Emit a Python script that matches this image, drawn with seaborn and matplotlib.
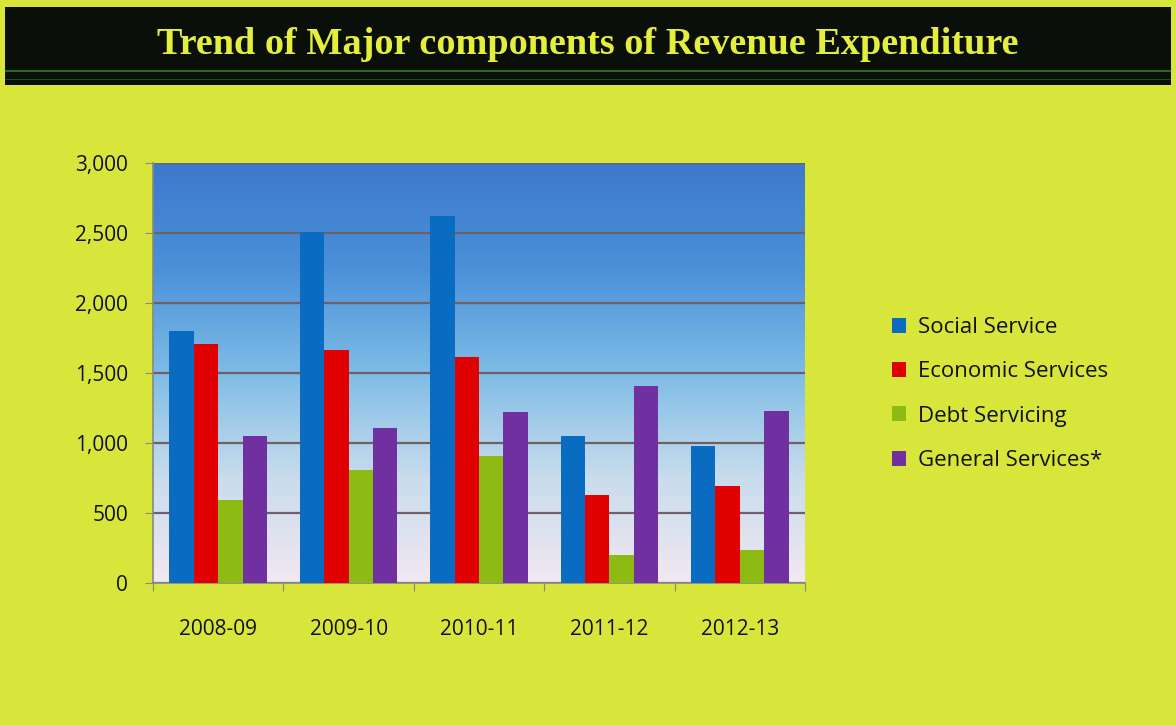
import numpy as np
import pandas as pd
import matplotlib
matplotlib.use("Agg")
import matplotlib.pyplot as plt
from matplotlib.colors import LinearSegmentedColormap
from matplotlib.patches import Rectangle
import seaborn as sns

years = ["2008-09", "2009-10", "2010-11", "2011-12", "2012-13"]
series = ["Social Service", "Economic Services", "Debt Servicing", "General Services*"]
social = [1800, 2510, 2620, 1050, 980]
economic = [1710, 1665, 1615, 630, 690]
debt = [590, 805, 905, 200, 237]
general = [1050, 1110, 1222, 1410, 1230]
colors = ["#0A6CC0", "#E00000", "#8DBB14", "#7030A0"]

df = pd.DataFrame({
    "year": years * 4,
    "component": [s for s in series for _ in years],
    "value": social + economic + debt + general,
})

sns.set_style("white")
plt.rcParams["font.family"] = ["Open Sans", "DejaVu Sans"]

bg = "#D8E63C"
fig = plt.figure(figsize=(11.76, 7.25), dpi=100, facecolor=bg)

# title band
fig.patches.append(Rectangle((0.004, 1 - 85 / 725), 0.992, 78 / 725, transform=fig.transFigure,
                             facecolor="#0B0F0A", edgecolor="none", zorder=0))
fig.patches.append(Rectangle((0.004, 1 - 72 / 725), 0.992, 2 / 725, transform=fig.transFigure,
                             facecolor="#2A6A26", edgecolor="none", zorder=1))
fig.patches.append(Rectangle((0.004, 1 - 80 / 725), 0.992, 1.5 / 725, transform=fig.transFigure,
                             facecolor="#1C4A1C", edgecolor="none", zorder=1))
fig.text(0.5, 1 - 44 / 725, "Trend of Major components of Revenue Expenditure",
         ha="center", va="center", color="#E4EE3C", fontsize=27.5, fontweight="bold",
         family="Liberation Serif")

ax = fig.add_axes([153 / 1176, 1 - 583 / 725, 652 / 1176, 420 / 725])

# gradient background of plot area
grad = LinearSegmentedColormap.from_list("g", ["#F2E8F2", "#C8DCEC", "#7EBCE6", "#4A90D8", "#3E78CC"])
ax.imshow(np.linspace(0, 1, 256).reshape(-1, 1), cmap=grad, origin="lower", aspect="auto",
          extent=[0, 1, 0, 1], transform=ax.transAxes, zorder=0)

sns.barplot(data=df, x="year", y="value", hue="component", palette=colors, width=0.75,
            saturation=1, ax=ax, zorder=3, legend=True, linewidth=0, edgecolor="none")

ax.set_ylim(0, 3000)
ax.set_xlim(-0.5, 4.5)
ax.set_yticks(range(0, 3001, 500))
ax.set_yticklabels([f"{v:,}" for v in range(0, 3001, 500)])
ax.yaxis.grid(True, color="#6E6066", linewidth=1.6)
for line in ax.get_ygridlines():
    line.set_zorder(2)
ax.set_xlabel("")
ax.set_ylabel("")
ax.set_xticks(np.arange(-0.5, 5, 1), minor=False)
ax.set_xticklabels([])
ax.set_xticks(range(5), minor=True)
ax.set_xticklabels(years, minor=True)
ax.tick_params(axis="x", which="major", length=6, color="#888888", direction="out", bottom=True)
ax.tick_params(axis="x", which="minor", length=0, pad=26, labelsize=15, labelcolor="#111111")
ax.tick_params(axis="y", length=6, color="#888888", direction="out", left=True, labelsize=15,
               pad=12, labelcolor="#111111")
for side in ["top", "right"]:
    ax.spines[side].set_visible(False)
for side in ["left", "bottom"]:
    ax.spines[side].set_color("#888888")
    ax.spines[side].set_linewidth(1.2)

handles, labels = ax.get_legend_handles_labels()
ax.legend_.remove()
fig.legend(handles, labels, loc="center left", bbox_to_anchor=(872 / 1176, 1 - 394 / 725),
           frameon=False, fontsize=16, handlelength=0.65, handleheight=0.65, labelspacing=1.05,
           handletextpad=0.5, labelcolor="#111111")

fig.savefig("out.png", dpi=100, facecolor=bg)
